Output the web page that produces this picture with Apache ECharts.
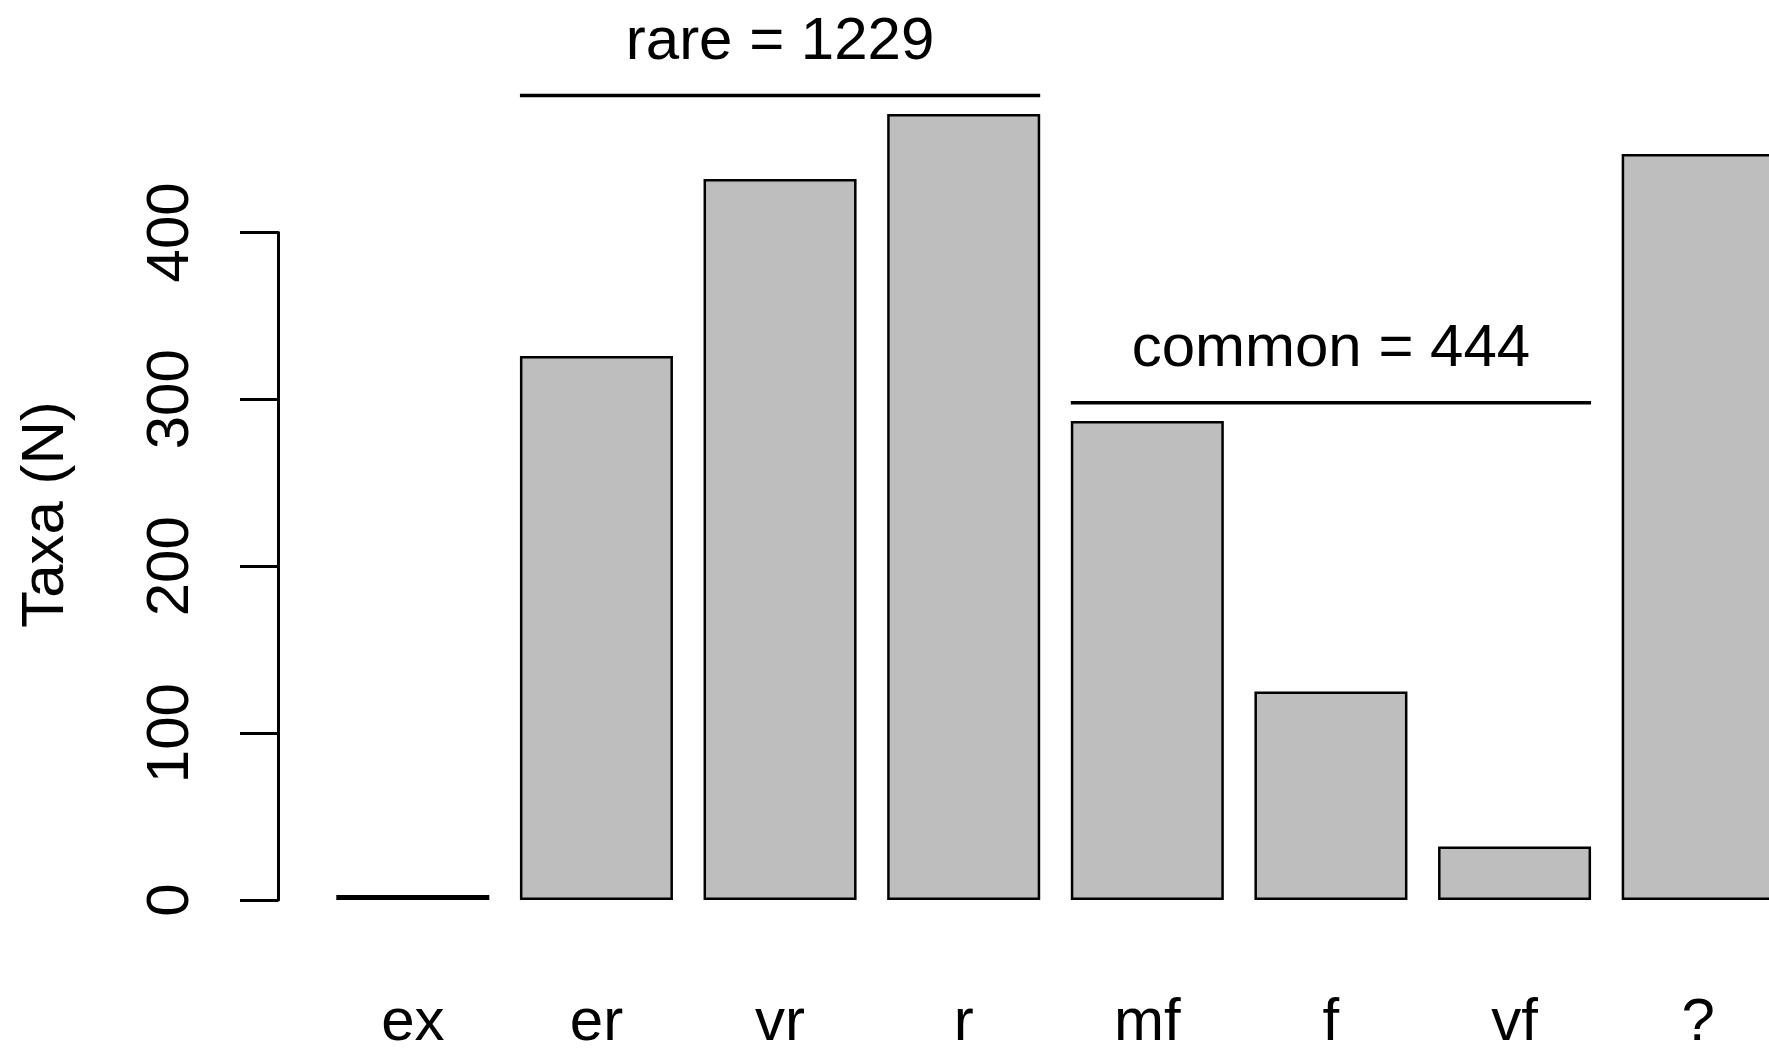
<!DOCTYPE html>
<html>
<head>
<meta charset="utf-8">
<script src="https://cdn.jsdelivr.net/npm/echarts@6/dist/echarts.min.js"></script>
<style>
html,body{margin:0;padding:0;background:#fff;}
#chart{width:1769px;height:1048px;}
</style>
</head>
<body>
<div id="chart"></div>
<script>
// ---- data ----
const categories = ['ex', 'er', 'vr', 'r', 'mf', 'f', 'vf', '?'];
const taxaCounts = [3, 326, 432, 471, 287, 125, 32, 447];
const yTickMax = 400;
const yTickStep = 100;
const yAxisTitle = 'Taxa (N)';
// group annotations
const groupNames = ['rare', 'common'];
const groupTotals = [1229, 444];
const groupFirstCat = [1, 4];
const groupLastCat = [3, 6];
const groupLevels = [482, 298];

// ---- styling / layout ----
const FONT = 'Liberation Sans, Arial, Helvetica, sans-serif';
const FS = 60;
const barFrac = 1 / 1.2;            // R barplot: space = 0.2
const gapFrac = (1 - barFrac) / 2;
const gridLeft = 321, gridBottomPx = 900;
const pxPer100 = 166.9;
const dataMax = 500;
const gridTop = gridBottomPx - dataMax / 100 * pxPer100;
const gridWidth = 1469;

const chart = echarts.init(document.getElementById('chart'), null, {renderer: 'canvas'});

const lineSeries = groupNames.map((g, i) => ({
  type: 'line',
  xAxisIndex: 1, yAxisIndex: 0,
  symbol: 'none', silent: true,
  lineStyle: {color: '#000', width: 3.5},
  data: [[groupFirstCat[i] + gapFrac, groupLevels[i]], [groupLastCat[i] + 1 - gapFrac, groupLevels[i]]]
}));

const labelSeries = {
  type: 'scatter',
  xAxisIndex: 1, yAxisIndex: 0,
  symbolSize: 0, silent: true,
  itemStyle: {opacity: 1, color: '#000'},
  data: groupNames.map((g, i) => ({
    value: [(groupFirstCat[i] + groupLastCat[i]) / 2 + 0.5, groupLevels[i]],
    name: g + ' = ' + groupTotals[i]
  })),
  label: {
    show: true, position: 'top', distance: 23,
    formatter: p => p.name,
    color: '#000', fontFamily: FONT, fontSize: FS
  }
};

chart.setOption({
  animation: false,
  backgroundColor: '#fff',
  grid: [
    {left: gridLeft, top: gridTop, width: gridWidth, height: gridBottomPx - gridTop,
     containLabel: false, outerBoundsMode: 'none'},
    {left: gridLeft, top: gridBottomPx - yTickMax / 100 * pxPer100, width: 100, height: yTickMax / 100 * pxPer100,
     containLabel: false, outerBoundsMode: 'none'}
  ],
  xAxis: [
    {type: 'category', gridIndex: 0, data: categories, boundaryGap: true,
     axisLine: {show: false}, axisTick: {show: false},
     axisLabel: {color: '#000', fontFamily: FONT, fontSize: FS, margin: 93, interval: 0}},
    {type: 'value', gridIndex: 0, min: 0, max: categories.length, show: false},
    {type: 'value', gridIndex: 1, min: 0, max: 1, show: false}
  ],
  yAxis: [
    {type: 'value', gridIndex: 0, min: 0, max: dataMax, show: false},
    {type: 'value', gridIndex: 1, min: 0, max: yTickMax, interval: yTickStep, offset: 43,
     axisLine: {show: true, onZero: false, lineStyle: {color: '#000', width: 3}},
     axisTick: {show: true, length: 38, lineStyle: {color: '#000', width: 3}},
     splitLine: {show: false},
     axisLabel: {rotate: 90, color: '#000', fontFamily: FONT, fontSize: FS, margin: 77}}
  ],
  graphic: [{
    type: 'text', x: 46, y: 514.5, rotation: Math.PI / 2,
    style: {text: yAxisTitle, fill: '#000', font: FS + 'px ' + FONT, textAlign: 'center', textVerticalAlign: 'middle'}
  }],
  series: [
    {type: 'bar', xAxisIndex: 0, yAxisIndex: 0, data: taxaCounts,
     barWidth: (barFrac * 100) + '%', silent: true,
     itemStyle: {color: '#BEBEBE', borderColor: '#000', borderWidth: 2.5}},
    ...lineSeries,
    labelSeries
  ]
});
</script>
</body>
</html>
